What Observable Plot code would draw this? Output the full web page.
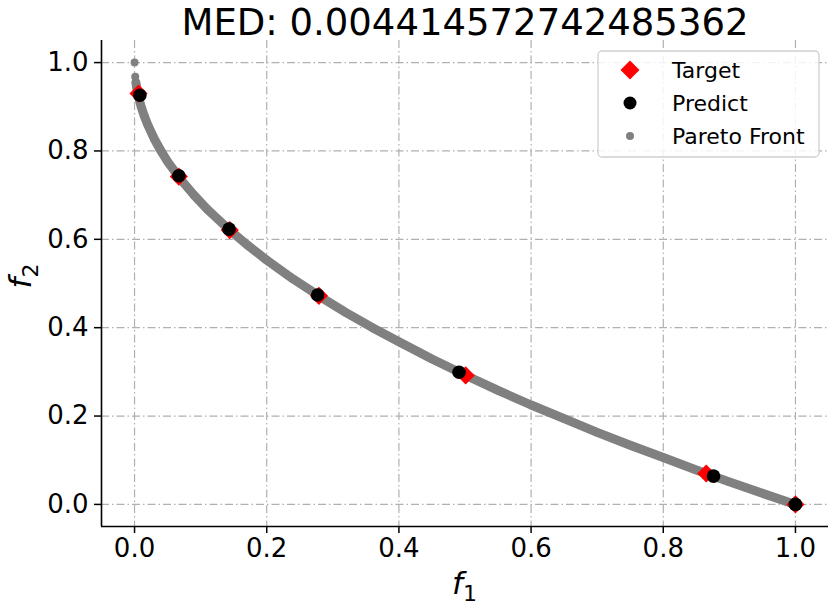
<!DOCTYPE html>
<html>
<head>
<meta charset="utf-8">
<script src="https://cdn.jsdelivr.net/npm/d3@7"></script>
<script src="https://cdn.jsdelivr.net/npm/@observablehq/plot@0.6"></script>
<style>
  html, body { margin: 0; padding: 0; background: white; }
  #chart { width: 830px; height: 607px; }
</style>
</head>
<body>
<div id="chart"></div>
<script>
const titleText = "MED: 0.004414572742485362";
const xTicks = [0.0, 0.2, 0.4, 0.6, 0.8, 1.0];
const yTicks = [0.0, 0.2, 0.4, 0.6, 0.8, 1.0];
const xDomain = [-0.05, 1.05];
const yDomain = [-0.05, 1.05];

const targetF1 = [0.006, 0.067, 0.144, 0.279, 0.501, 0.865, 1.0];
const targetF2 = [0.930, 0.742, 0.621, 0.472, 0.292, 0.070, 0.0];
const predictF1 = [0.008, 0.067, 0.143, 0.277, 0.491, 0.876, 1.0];
const predictF2 = [0.926, 0.744, 0.623, 0.474, 0.299, 0.064, 0.0];

const paretoF1 = [0.0, 0.001, 0.002, 0.004, 0.006, 0.01, 0.015, 0.02, 0.03, 0.04, 0.05, 0.07, 0.09, 0.11, 0.14, 0.17, 0.2, 0.24, 0.28, 0.32, 0.36, 0.4, 0.45, 0.5, 0.55, 0.6, 0.65, 0.7, 0.75, 0.8, 0.85, 0.9, 0.95, 1.0];
const paretoF2 = [1.0, 0.968, 0.955, 0.937, 0.923, 0.9, 0.878, 0.859, 0.827, 0.8, 0.776, 0.735, 0.7, 0.668, 0.626, 0.588, 0.553, 0.51, 0.471, 0.434, 0.4, 0.368, 0.329, 0.293, 0.258, 0.225, 0.194, 0.163, 0.134, 0.106, 0.078, 0.051, 0.025, 0.0];

const target = targetF1.map((f1, i) => ({f1, f2: targetF2[i]}));
const predict = predictF1.map((f1, i) => ({f1, f2: predictF2[i]}));
const pareto = paretoF1.map((f1, i) => ({f1, f2: paretoF2[i]}));

const gridStyle = {stroke: "#b0b0b0", strokeWidth: 1.2, strokeDasharray: "8,3,1.5,3"};
const gray = "#808080";

const chart = Plot.plot({
  width: 830,
  height: 607,
  marginLeft: 101,
  marginRight: 2,
  marginTop: 40,
  marginBottom: 81,
  x: {domain: xDomain},
  y: {domain: yDomain},
  style: {fontFamily: "DejaVu Sans", background: "white", color: "black", overflow: "visible"},
  marks: [
    Plot.ruleX(xTicks, gridStyle),
    Plot.ruleY(yTicks, gridStyle),
    Plot.line(pareto.slice(2), {x: "f1", y: "f2", stroke: gray, strokeWidth: 9, strokeLinecap: "round"}),
    Plot.dot(pareto, {x: "f1", y: "f2", r: 4, fill: gray}),
    Plot.dot(target, {x: "f1", y: "f2", symbol: "diamond2", r: 8.2, fill: "red"}),
    Plot.dot(predict, {x: "f1", y: "f2", r: 6.8, fill: "black"}),
    Plot.axisX({ticks: xTicks, tickFormat: ".1f", fontSize: 26, tickSize: 7, tickPadding: 5, strokeWidth: 1.5, label: null, fill: "black"}),
    Plot.axisY({ticks: yTicks, tickFormat: ".1f", fontSize: 26, tickSize: 7, tickPadding: 6, strokeWidth: 1.5, label: null, fill: "black"}),
    Plot.ruleX([xDomain[0]], {stroke: "black", strokeWidth: 1.6}),
    Plot.ruleY([yDomain[0]], {stroke: "black", strokeWidth: 1.6}),
    Plot.text([titleText], {text: d => d, frameAnchor: "top", lineAnchor: "bottom", dy: -6, fontSize: 37, fill: "black"})
  ]
});

document.getElementById("chart").appendChild(chart);

const svg = d3.select(chart);

// axis labels
const xl = svg.append("text")
  .attr("x", 464.5).attr("y", 594)
  .attr("text-anchor", "middle")
  .attr("font-family", "DejaVu Sans")
  .attr("fill", "black");
xl.append("tspan").attr("font-style", "italic").attr("font-size", 31).text("f");
xl.append("tspan").attr("font-size", 22).attr("dy", 7).text("1");

const yl = svg.append("text")
  .attr("transform", "translate(31,276) rotate(-90)")
  .attr("text-anchor", "middle")
  .attr("font-family", "DejaVu Sans")
  .attr("fill", "black");
yl.append("tspan").attr("font-style", "italic").attr("font-size", 31).text("f");
yl.append("tspan").attr("font-size", 22).attr("dy", 7).text("2");

// legend
const lg = svg.append("g").attr("font-family", "DejaVu Sans");
lg.append("rect")
  .attr("x", 598).attr("y", 51).attr("width", 221).attr("height", 106)
  .attr("rx", 4).attr("fill", "white").attr("fill-opacity", 0.85)
  .attr("stroke", "#d0d0d0").attr("stroke-width", 1.3);
const rows = [
  {label: "Target", y: 70},
  {label: "Predict", y: 103},
  {label: "Pareto Front", y: 136}
];
lg.append("path")
  .attr("d", d3.symbol(d3.symbolDiamond2, 230)())
  .attr("transform", `translate(630,${rows[0].y})`).attr("fill", "red");
lg.append("circle").attr("cx", 630).attr("cy", rows[1].y).attr("r", 6.5).attr("fill", "black");
lg.append("circle").attr("cx", 630).attr("cy", rows[2].y).attr("r", 4).attr("fill", gray);
rows.forEach(r => {
  lg.append("text").attr("x", 672).attr("y", r.y).attr("dy", "0.36em")
    .attr("text-anchor", "start")
    .attr("font-size", 22).attr("fill", "black").text(r.label);
});
</script>
</body>
</html>
